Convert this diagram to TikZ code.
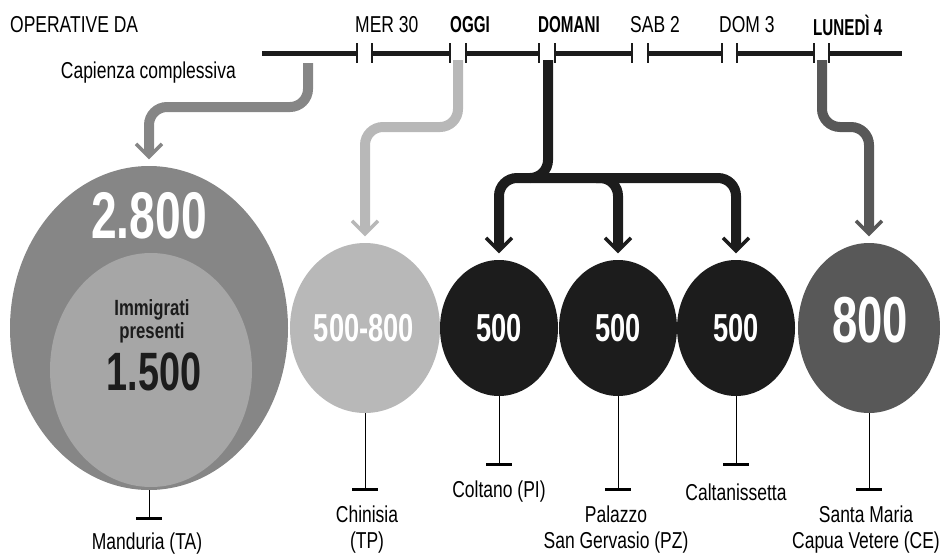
\documentclass[tikz,border=0pt]{standalone}
\usepackage{fontspec}
\setmainfont{Liberation Sans}[FakeStretch=0.76]
\newfontfamily\numfont{Liberation Sans}[FakeStretch=0.7]
\newfontfamily\tlbold{Liberation Sans}[FakeStretch=0.66]
\usetikzlibrary{shapes.geometric,calc}
\definecolor{cMand}{HTML}{868686}
\definecolor{cMandIn}{HTML}{A6A6A6}
\definecolor{cLight}{HTML}{B8B8B8}
\definecolor{cBlack}{HTML}{1C1C1C}
\definecolor{cDark}{HTML}{585858}
\begin{document}
\begin{tikzpicture}[x=1pt,y=-1pt,
  blob/.style={ellipse, inner sep=0pt, draw=none},
  lbl/.style={font=\fontsize{23}{26}\selectfont, align=center, inner sep=0pt},
  tlbl/.style={font=\fontsize{23}{23}\selectfont, anchor=west, inner sep=0pt},
  tlblb/.style={font=\tlbold\bfseries\fontsize{23}{23}\selectfont, anchor=west, inner sep=0pt},
  bignum/.style={font=\numfont\bfseries\fontsize{#1}{#1}\selectfont, inner sep=0pt},
  arrshaft/.style={line width=10pt, rounded corners=18pt},
  vhd/.style={line width=3.5pt, miter limit=10},
  stemline/.style={line width=1pt, black},
  tbarline/.style={line width=3pt, black},
  tline/.style={line width=5pt, cBlack},
  tickline/.style={line width=1.1pt, cBlack},
  vhead/.pic={\draw[vhd] (-13,-13) -- (0,0) -- (13,-13);}
]
\useasboundingbox (0,0) rectangle (940,557);

% timeline
\foreach \a/\b in {262/357,372/450,466/539,555/632,648/722,737/814,829/902}
  \draw[tline] (\a,53) -- (\b,53);
\foreach \t in {357,372,450,466,539,555,632,648,722,737,814,829}
  \draw[tickline] (\t,43) -- (\t,63);

\node[tlbl] (opda) at (10,25) {OPERATIVE DA};
\node[tlbl] (mer) at (355,25) {MER 30};
\node[tlblb] (oggi) at (450,25) {OGGI};
\node[tlblb] (domani) at (538,25) {DOMANI};
\node[tlbl] (sab) at (630,25) {SAB 2};
\node[tlbl] (dom) at (719,25) {DOM 3};
\node[tlblb] (lun) at (813,25) {LUNEDÌ 4};
\node[tlbl, anchor=east] (cap) at (236,73) {Capienza complessiva};

% circles
\node[blob, fill=cMand, minimum width=278pt, minimum height=324pt] (mand) at (149,328) {};
\node[blob, fill=cMandIn, minimum width=202pt, minimum height=234pt] (mandin) at (151,370) {};
\node[blob, fill=cLight, minimum width=150pt, minimum height=170pt] (chin) at (365,328) {};
\node[blob, fill=cBlack, minimum width=118pt, minimum height=136pt] (colt) at (499,328) {};
\node[blob, fill=cBlack, minimum width=118pt, minimum height=136pt] (pal) at (618,328) {};
\node[blob, fill=cBlack, minimum width=118pt, minimum height=136pt] (calt) at (736,328) {};
\node[blob, fill=cDark, minimum width=142pt, minimum height=170pt] (sm) at (869,328) {};

% numbers
\node[bignum=66, white] (n2800) at (149,216) {2.800};
\node[font=\bfseries\fontsize{22}{23}\selectfont, align=center, inner sep=0pt, cBlack] (imm) at (152,321) {Immigrati\\presenti};
\node[bignum=54, cBlack] (n1500) at (154,372) {1.500};
\node[bignum=39, white] (n500800) at (364,328) {500-800};
\node[bignum=39, white] (n500a) at (499,328) {500};
\node[bignum=39, white] (n500b) at (618,328) {500};
\node[bignum=39, white] (n500c) at (736,328) {500};
\node[bignum=65, white] (n800) at (870,320) {800};

% connectors from the timeline
\coordinate (gMand) at (308,63);
\coordinate (gOggi) at (458,60);
\coordinate (gDom) at (548,60);
\coordinate (gLun) at (822,60);

\draw[arrshaft, cMand] (gMand) -- (308,107) -- (149,107) -- ($(mand.north)+(0,-12)$);
\pic[color=cMand] at ($(mand.north)+(0,-9)$) {vhead};

\draw[arrshaft, cLight] (gOggi) -- (458,127) -- (365,127) -- ($(chin.north)+(0,-12)$);
\pic[color=cLight] at ($(chin.north)+(0,-9)$) {vhead};

\draw[arrshaft, cBlack] (gDom) -- (548,178) -- (499,178) -- ($(colt.north)+(0,-12)$);
\draw[arrshaft, cBlack] (530,178) -- (736,178) -- ($(calt.north)+(0,-12)$);
\draw[arrshaft, cBlack] (596,178) -- (618,178) -- ($(pal.north)+(0,-12)$);
\pic[color=cBlack] at ($(colt.north)+(0,-9)$) {vhead};
\pic[color=cBlack] at ($(pal.north)+(0,-9)$) {vhead};
\pic[color=cBlack] at ($(calt.north)+(0,-9)$) {vhead};

\draw[arrshaft, cDark] (gLun) -- (822,127) -- (869,127) -- ($(sm.north)+(0,-12)$);
\pic[color=cDark] at ($(sm.north)+(0,-9)$) {vhead};

% stems and labels
\coordinate (tMand) at (149,518);
\coordinate (tChin) at (365,489);
\coordinate (tColt) at (499,464);
\coordinate (tPal) at (618,489);
\coordinate (tCalt) at (736,464);
\coordinate (tSm) at (869,489);
\foreach \c/\t in {mand/tMand,chin/tChin,colt/tColt,pal/tPal,calt/tCalt,sm/tSm}{
  \draw[stemline] (\c.south) -- (\t);
  \draw[tbarline] ($(\t)+(-13,0)$) -- ($(\t)+(13,0)$);
}

\node[lbl] (lMand) at (147,544) {Manduria (TA)};
\node[lbl] (lChin) at (367,530) {Chinisia\\(TP)};
\node[lbl] (lColt) at (499,492) {Coltano (PI)};
\node[lbl] (lPal) at (616,530) {Palazzo\\San Gervasio (PZ)};
\node[lbl] (lCalt) at (736,492) {Caltanissetta};
\node[lbl] (lSm) at (866,530) {Santa Maria\\Capua Vetere (CE)};
\end{tikzpicture}
\end{document}
